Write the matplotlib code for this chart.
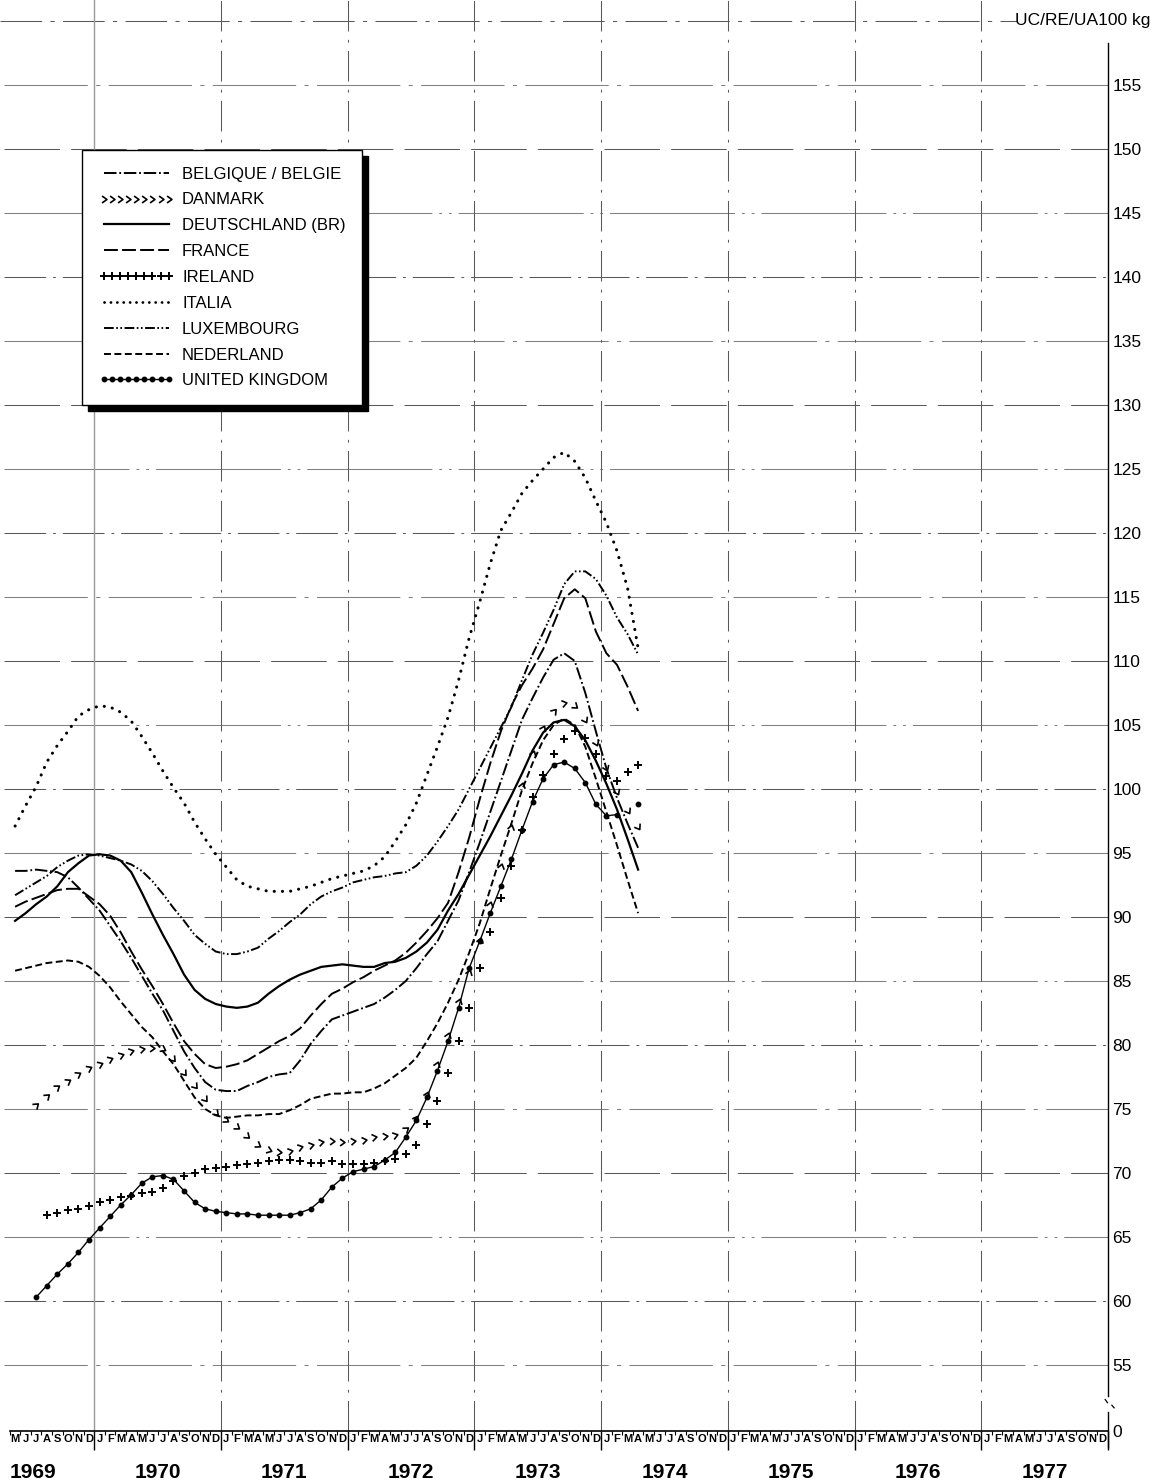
import numpy as np
import matplotlib
matplotlib.use("Agg")
import matplotlib.pyplot as plt
from matplotlib.path import Path
from matplotlib.markers import MarkerStyle
from matplotlib.transforms import Affine2D
from matplotlib.lines import Line2D

plt.rcParams['font.family'] = ['DejaVu Sans Condensed', 'Liberation Sans', 'DejaVu Sans']
plt.rcParams['font.stretch'] = 'condensed'
plt.rcParams['lines.scale_dashes'] = False

# monthly prices, UC/RE/UA per 100 kg
# month index 0 = January 1970, first value of each list at its start month
start_belgique = -8
belgique = [93.6, 93.6, 93.7, 93.6, 93.5, 93.1, 92.3, 91.4,
            90.5, 89.3, 88.1, 86.8, 85.4, 84.0, 82.7, 81.1, 79.5, 78.2, 77.1, 76.5,
            76.4, 76.4, 76.8, 77.1, 77.5, 77.7, 77.8, 78.8, 80.1, 81.1, 82.0, 82.3,
            82.6, 82.9, 83.2, 83.7, 84.3, 85.0, 86.0, 87.1, 88.1, 89.7, 91.3, 93.5,
            95.8, 98.2, 100.6, 103.0, 105.4, 107.1, 108.7, 110.1, 110.6, 110.0, 107.5, 104.5,
            101.6, 99.3, 97.3, 95.4]
start_danmark = -6
danmark = [75.3, 76.0, 76.7, 77.2, 77.7, 78.2,
           78.5, 78.9, 79.2, 79.5, 79.7, 79.8, 79.7, 78.9, 77.8, 76.8, 75.8, 74.7,
           74.1, 73.6, 72.9, 72.2, 71.8, 71.6, 71.7, 72.0, 72.2, 72.4, 72.5, 72.4,
           72.5, 72.6, 72.8, 72.9, 73.0, 73.4, 74.3, 76.2, 78.5, 80.8, 83.4, 85.7,
           88.2, 91.0, 94.0, 97.0, 100.3, 102.8, 104.8, 106.1, 106.7, 106.5, 105.4, 103.6,
           101.6, 99.8, 98.3, 97.0]
start_deutschland = -8
deutschland = [89.7, 90.3, 91.0, 91.6, 92.4, 93.5, 94.2, 94.8,
               94.9, 94.8, 94.4, 93.5, 91.9, 90.2, 88.6, 87.1, 85.5, 84.3, 83.6, 83.2,
               83.0, 82.9, 83.0, 83.3, 84.0, 84.6, 85.1, 85.5, 85.8, 86.1, 86.2, 86.3,
               86.2, 86.1, 86.1, 86.4, 86.5, 86.8, 87.3, 88.0, 89.0, 90.5, 91.8, 93.3,
               94.8, 96.3, 97.9, 99.5, 101.2, 103.0, 104.4, 105.2, 105.4, 104.9, 103.8, 102.2,
               100.4, 98.4, 96.1, 93.7]
start_france = -8
france = [90.8, 91.2, 91.5, 91.8, 92.1, 92.2, 92.2, 91.6,
          91.0, 90.1, 88.8, 87.3, 85.9, 84.6, 83.2, 81.7, 80.3, 79.3, 78.5, 78.2,
          78.3, 78.5, 78.8, 79.3, 79.8, 80.3, 80.7, 81.3, 82.3, 83.2, 84.0, 84.4,
          84.9, 85.3, 85.8, 86.2, 86.6, 87.2, 88.0, 88.9, 89.9, 91.1, 93.5, 96.2,
          99.2, 102.0, 104.5, 106.5, 108.1, 109.4, 110.9, 112.9, 114.9, 115.6, 114.9, 112.3,
          110.6, 109.7, 108.0, 106.1]
start_ireland = -5
ireland = [66.7, 66.9, 67.1, 67.2, 67.4,
           67.7, 67.9, 68.1, 68.2, 68.4, 68.5, 68.8, 69.4, 69.8, 70.0, 70.3, 70.4,
           70.5, 70.6, 70.7, 70.8, 70.9, 71.0, 71.0, 70.9, 70.8, 70.8, 70.9, 70.7,
           70.7, 70.7, 70.8, 70.9, 71.1, 71.5, 72.2, 73.8, 75.6, 77.8, 80.3, 82.9,
           86.0, 88.8, 91.5, 94.0, 96.8, 99.4, 101.1, 102.7, 103.9, 104.5, 104.0, 102.7,
           101.0, 100.6, 101.3, 101.9]
start_italia = -8
italia = [97.1, 98.7, 100.2, 102.1, 103.4, 104.5, 105.7, 106.2,
          106.5, 106.4, 106.0, 105.3, 104.1, 102.8, 101.4, 100.1, 98.9, 97.4, 96.1, 94.9,
          93.9, 92.9, 92.4, 92.2, 92.0, 92.0, 92.0, 92.2, 92.4, 92.7, 93.0, 93.2,
          93.4, 93.6, 94.0, 94.7, 95.9, 97.2, 98.9, 101.1, 103.3, 105.6, 108.5, 111.8,
          114.6, 117.6, 120.2, 121.6, 123.1, 124.1, 125.0, 125.9, 126.3, 125.6, 124.3, 122.5,
          120.8, 118.6, 115.7, 111.0]
start_luxembourg = -8
luxembourg = [91.7, 92.2, 92.7, 93.2, 93.9, 94.4, 94.8, 94.9,
              94.8, 94.6, 94.4, 94.1, 93.6, 92.8, 91.8, 90.7, 89.7, 88.6, 87.9, 87.3,
              87.1, 87.1, 87.3, 87.6, 88.3, 88.9, 89.6, 90.2, 91.0, 91.6, 92.0, 92.3,
              92.7, 92.9, 93.1, 93.2, 93.4, 93.5, 94.0, 94.8, 95.9, 97.1, 98.4, 100.0,
              101.6, 103.2, 104.8, 106.4, 108.5, 110.5, 112.2, 114.0, 116.0, 117.0, 117.0, 116.4,
              115.1, 113.4, 112.1, 110.5]
start_nederland = -8
nederland = [85.8, 86.0, 86.2, 86.4, 86.5, 86.6, 86.5, 86.1,
             85.4, 84.5, 83.4, 82.4, 81.4, 80.6, 79.5, 78.5, 77.2, 75.9, 75.0, 74.5,
             74.3, 74.4, 74.5, 74.5, 74.6, 74.6, 74.9, 75.3, 75.8, 76.0, 76.2, 76.2,
             76.3, 76.3, 76.6, 77.0, 77.6, 78.2, 79.0, 80.3, 81.7, 83.3, 85.1, 87.2,
             89.5, 92.2, 94.8, 97.3, 99.9, 102.0, 103.8, 105.0, 105.5, 105.0, 103.3, 100.8,
             98.2, 95.6, 92.9, 90.3]
start_uk = -6
uk = [60.3, 61.2, 62.1, 62.9, 63.8, 64.8,
      65.7, 66.6, 67.5, 68.3, 69.2, 69.7, 69.8, 69.5, 68.6, 67.7, 67.2, 67.0,
      66.9, 66.8, 66.8, 66.7, 66.7, 66.7, 66.7, 66.9, 67.2, 67.9, 68.9, 69.6,
      70.1, 70.3, 70.5, 71.0, 71.6, 72.8, 74.1, 75.9, 78.0, 80.3, 82.9, 86.0,
      88.1, 90.3, 92.4, 94.5, 96.8, 99.0, 100.8, 101.9, 102.1, 101.6, 100.5, 98.8,
      97.9, 98.0, np.nan, 98.8]

countries = ["BELGIQUE / BELGIE", "DANMARK", "DEUTSCHLAND (BR)", "FRANCE", "IRELAND",
             "ITALIA", "LUXEMBOURG", "NEDERLAND", "UNITED KINGDOM"]
month_letters = ["J", "F", "M", "A", "M", "J", "J", "A", "S", "O", "N", "D"]
years = [1969, 1970, 1971, 1972, 1973, 1974, 1975, 1976, 1977]
yticks = [55, 60, 65, 70, 75, 80, 85, 90, 95, 100, 105, 110, 115, 120, 125, 130, 135, 140, 145, 150, 155]


def xs(start, vals):
    return start + np.arange(len(vals)) + 0.5


W, H = 1154, 1483
fig = plt.figure(figsize=(W / 100, H / 100), dpi=100)
ax = fig.add_axes([0, 52 / H, 1108 / W, 1431 / H])
ymin, ymax = 49.84, 161.64
ax.set_xlim(-94.3 / 10.56, 96)
ax.set_ylim(ymin, ymax)

# grid of the printed sheet
hpats = [(0, (60, 6, 3, 6)), (0, (30, 5, 2, 5)), (0, (90, 5, 2, 5, 2, 5)), (0, (40, 8))]
for i, v in enumerate(yticks):
    ax.axhline(v, xmin=0.004, color='0.35' if i % 2 else '0.5', lw=0.75,
               ls=hpats[i % 4], zorder=1)
ax.axhline(160, xmax=0.918, color='0.35', lw=0.75, ls=(0, (30, 6, 3, 6)), zorder=1)
for yb in range(0, 96, 12):
    if yb == 0:
        ax.axvline(yb, color='0.6', lw=1.0, zorder=1)
    else:
        ax.axvline(yb, color='0.35', lw=0.75, ls=(0, (22, 6, 2, 6)), zorder=1)

lw = 1.4
ls_bel = (0, (9, 2, 1.3, 2))
ls_fra = (0, (10, 3))
ls_lux = (0, (7, 1.8, 1.2, 1.8, 1.2, 1.8))
ls_ned = (0, (5, 2.5))
ls_ita = (0, (0.1, 5.8))
chevron = Path([(-0.7, 1.0), (0.7, 0.0), (-0.7, -1.0)],
               [Path.MOVETO, Path.LINETO, Path.LINETO])

ax.plot(xs(start_belgique, belgique), belgique, color='k', lw=lw, ls=ls_bel, zorder=3)
ax.plot(xs(start_deutschland, deutschland), deutschland, color='k', lw=1.6, zorder=3)
ax.plot(xs(start_france, france), france, color='k', lw=lw, ls=ls_fra, zorder=3)
ax.plot(xs(start_italia, italia), italia, color='k', lw=2.2, ls=ls_ita,
        dash_capstyle='round', zorder=3)
ax.plot(xs(start_luxembourg, luxembourg), luxembourg, color='k', lw=lw, ls=ls_lux, zorder=3)
ax.plot(xs(start_nederland, nederland), nederland, color='k', lw=lw, ls=ls_ned, zorder=3)
ax.plot(xs(start_ireland, ireland), ireland, ls='none', marker='+', ms=6, mew=1.4,
        color='k', zorder=3)
ax.plot(xs(start_uk, uk), uk, color='k', lw=1.0, marker='o', ms=3.2, zorder=3)

# danmark: chevrons turned along the curve
xd = xs(start_danmark, danmark)
pts = ax.transData.transform(np.column_stack([xd, danmark]))
ang = np.degrees(np.arctan2(np.gradient(pts[:, 1]), np.gradient(pts[:, 0])))
for xi, yi, a in zip(xd, danmark, ang):
    m = MarkerStyle(chevron, transform=Affine2D().rotate_deg(a))
    ax.plot([xi], [yi], ls='none', marker=m, ms=5, mew=1.2, mfc='none', mec='k', zorder=3)

# legend
handles = [
    Line2D([], [], color='k', lw=lw, ls=ls_bel),
    Line2D([], [], ls='none', marker=chevron, ms=5, mew=1.2, mfc='none', mec='k'),
    Line2D([], [], color='k', lw=1.6),
    Line2D([], [], color='k', lw=lw, ls=ls_fra),
    Line2D([], [], ls='none', marker='+', ms=6, mew=1.4, color='k'),
    Line2D([], [], color='k', lw=2.0, ls=(0, (0.1, 4.5)), dash_capstyle='round'),
    Line2D([], [], color='k', lw=lw, ls=ls_lux),
    Line2D([], [], color='k', lw=lw, ls=ls_ned),
    Line2D([], [], color='k', lw=1.0, marker='o', ms=3.2),
]
leg = ax.legend(handles, countries, loc='upper left', bbox_to_anchor=(82 / W, 1 - 150 / H),
                bbox_transform=fig.transFigure, numpoints=9, handlelength=4.5,
                handletextpad=0.5, labelspacing=0.65, borderpad=1.0, borderaxespad=0,
                fontsize=12, fancybox=False, edgecolor='k', framealpha=1,
                shadow={'ox': 4, 'oy': -4, 'color': 'k', 'alpha': 1})
leg.get_frame().set_linewidth(1.0)
leg.set_zorder(5)

# axes: right value scale, month row at the bottom
for s in ['left', 'top', 'right']:
    ax.spines[s].set_visible(False)
ax.spines['bottom'].set_bounds(-8, 96)
ax.spines['bottom'].set_linewidth(1.2)
ax.yaxis.tick_right()
ax.set_yticks([ymin] + yticks)
ax.set_yticklabels(['0'] + [str(v) for v in yticks])
ax.tick_params(axis='y', length=0, pad=3, labelsize=12.5)

ax.set_xticks(np.arange(0, 97, 12))
ax.set_xticklabels([])
ax.set_xticks(np.arange(-8, 97), minor=True)
ax.tick_params(axis='x', which='major', length=14, width=1.0, direction='out')
ax.tick_params(axis='x', which='minor', length=3, width=0.8, direction='out')

tx = ax.get_xaxis_transform()
for k in range(-8, 96):
    ax.text(k + 0.5, -0.0055, month_letters[k % 12], transform=tx, ha='center',
            va='center', fontsize=8, fontweight='bold')
for yr in years:
    if yr == 1969:
        ax.text(-8, -0.0287, str(yr), transform=tx, ha='left', va='center',
                fontsize=15, fontweight='bold')
    else:
        ax.text((yr - 1970) * 12 + 6, -0.0287, str(yr), transform=tx, ha='center',
                va='center', fontsize=15, fontweight='bold')

# right scale line with the break below 55
ty = ax.get_yaxis_transform()
ax.plot([1, 1], [52.6, 158.3], transform=ty, color='k', lw=1.0, clip_on=False)
ax.plot([0.9975, 0.9995], [52.3, 52.05], transform=ty, color='k', lw=0.9, clip_on=False)
ax.plot([1.0035, 1.0055], [51.85, 51.65], transform=ty, color='k', lw=0.9, clip_on=False)
ax.plot([1, 1], [51.3, 48.6], transform=ty, color='k', lw=1.0, clip_on=False)

fig.text(1150 / W, 1 - 21 / H, 'UC/RE/UA100 kg', ha='right', va='center', fontsize=12.5)

fig.savefig('out.png', dpi=100)
